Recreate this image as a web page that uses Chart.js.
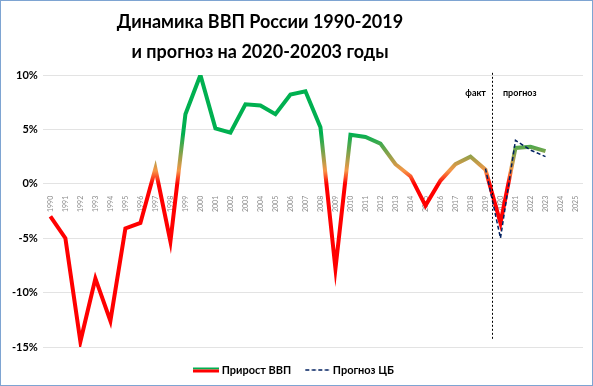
<!DOCTYPE html>
<html>
<head>
<meta charset="utf-8">
<script src="https://cdn.jsdelivr.net/npm/chart.js@4/dist/chart.umd.min.js"></script>
<style>
  html, body { margin: 0; padding: 0; background: #fff; }
  #wrap { width: 593px; height: 386px; box-sizing: border-box; border: 1px solid #7ea4d2; position: relative; }
</style>
</head>
<body>
<div id="wrap"><canvas id="gdpChart"></canvas></div>
<script>
// Data
const years = ['1990','1991','1992','1993','1994','1995','1996','1997','1998','1999',
  '2000','2001','2002','2003','2004','2005','2006','2007','2008','2009',
  '2010','2011','2012','2013','2014','2015','2016','2017','2018','2019',
  '2020','2021','2022','2023','2024','2025'];
const gdpGrowth = [-3.0, -5.0, -14.5, -8.7, -12.6, -4.1, -3.6, 1.4, -5.3, 6.4,
  10.0, 5.1, 4.7, 7.3, 7.2, 6.4, 8.2, 8.5, 5.2, -7.8,
  4.5, 4.3, 3.7, 1.8, 0.7, -2.0, 0.3, 1.8, 2.5, 1.3,
  -3.6, 3.3, 3.4, 3.0, null, null];
const cbForecast = [null, null, null, null, null, null, null, null, null, null,
  null, null, null, null, null, null, null, null, null, null,
  null, null, null, null, null, null, null, null, null, 1.4,
  -5.0, 4.0, 3.1, 2.5, null, null];
const yTicks = [-15, -10, -5, 0, 5, 10];
const titleLines = ['Динамика ВВП России 1990-2019', 'и прогноз на 2020-20203 годы'];
const splitAfter = '2019';

const FONT = 'Lato';

// vertical gradient: red below zero, orange around 1%, green above ~4.5%
function gdpGradient(context) {
    const chart = context.chart;
    const { ctx, chartArea, scales } = chart;
    if (!chartArea) return '#ff0000';
    const y = scales.y;
    const bottom = y.getPixelForValue(y.min);
    const top = y.getPixelForValue(y.max);
    const g = ctx.createLinearGradient(0, bottom, 0, top);
    const pos = v => (v - y.min) / (y.max - y.min);
    g.addColorStop(0, '#ff0000');
    g.addColorStop(pos(0), '#ff0000');
    g.addColorStop(pos(1.2), '#f79646');
    g.addColorStop(pos(4.6), '#00b050');
    g.addColorStop(1, '#00b050');
    return g;
}

// legend samples
function legendSample(kind) {
    const c = document.createElement('canvas');
    c.width = 26; c.height = 6;
    const x = c.getContext('2d');
    if (kind === 'gdp') {
        x.strokeStyle = '#00b050'; x.lineWidth = 2;
        x.beginPath(); x.moveTo(0, 1.5); x.lineTo(26, 1.5); x.stroke();
        x.strokeStyle = '#ff0000'; x.lineWidth = 3;
        x.beginPath(); x.moveTo(0, 4); x.lineTo(26, 4); x.stroke();
    } else {
        x.strokeStyle = '#002060'; x.lineWidth = 1.5; x.setLineDash([4, 2.5]);
        x.beginPath(); x.moveTo(1, 3); x.lineTo(26, 3); x.stroke();
    }
    return c;
}

// title is drawn a bit left of centre, like the original
const chartTitle = {
    id: 'chartTitle',
    afterDraw(chart) {
        const { ctx } = chart;
        ctx.save();
        ctx.font = 'bold 18px ' + FONT;
        ctx.fillStyle = '#000';
        ctx.textAlign = 'center';
        ctx.textBaseline = 'middle';
        ctx.fillText(titleLines[0], 259, 21);
        ctx.fillText(titleLines[1], 259, 51);
        ctx.restore();
    }
};

// marker between fact and forecast
const factLine = {
    id: 'factLine',
    afterDatasetsDraw(chart) {
        const { ctx, scales } = chart;
        const i = years.indexOf(splitAfter);
        const xPos = (scales.x.getPixelForValue(i) + scales.x.getPixelForValue(i + 1)) / 2 - 1;
        ctx.save();
        ctx.strokeStyle = '#000';
        ctx.lineWidth = 1;
        ctx.setLineDash([2, 2]);
        ctx.beginPath();
        ctx.moveTo(Math.round(xPos) + 0.5, scales.y.getPixelForValue(10.2));
        ctx.lineTo(Math.round(xPos) + 0.5, scales.y.getPixelForValue(-14.4));
        ctx.stroke();
        ctx.font = 'bold 9px ' + FONT;
        ctx.fillStyle = '#000';
        ctx.textBaseline = 'middle';
        const ty = scales.y.getPixelForValue(8.3);
        ctx.textAlign = 'right';
        ctx.fillText('факт', xPos - 6, ty);
        ctx.textAlign = 'left';
        ctx.fillText('прогноз', xPos + 11, ty);
        ctx.restore();
    }
};

new Chart(document.getElementById('gdpChart'), {
    type: 'line',
    data: {
        labels: years,
        datasets: [
            {
                label: 'Прирост ВВП',
                data: gdpGrowth,
                borderColor: gdpGradient,
                borderWidth: 4,
                pointRadius: 0,
                tension: 0,
                order: 2
            },
            {
                label: 'Прогноз ЦБ',
                data: cbForecast,
                borderColor: '#002060',
                borderWidth: 1.5,
                borderDash: [4, 2.5],
                pointRadius: 0,
                tension: 0,
                order: 1
            }
        ]
    },
    options: {
        responsive: true,
        maintainAspectRatio: false,
        animation: false,
        layout: { padding: { left: 6, right: 9, top: 74, bottom: -0.5 } },
        plugins: {
            title: { display: false },
            legend: {
                position: 'bottom',
                // empty legend title only adds a little space above the items
                title: { display: true, text: ' ', font: { size: 1 }, padding: { top: 0.3, bottom: 0 } },
                labels: {
                    usePointStyle: true,
                    pointStyleWidth: 20,
                    padding: 16,
                    color: '#000',
                    font: { family: FONT, size: 11, weight: 'bold' },
                    generateLabels(chart) {
                        return chart.data.datasets.map((ds, i) => ({
                            text: ds.label,
                            pointStyle: legendSample(i === 0 ? 'gdp' : 'cb'),
                            fontColor: '#000',
                            datasetIndex: i,
                            lineWidth: 0
                        }));
                    }
                }
            },
            tooltip: { enabled: false }
        },
        scales: {
            x: {
                position: { y: 0 },
                offset: true,
                grid: { display: false },
                border: { display: false },
                ticks: {
                    autoSkip: false,
                    minRotation: 90,
                    maxRotation: 90,
                    padding: 4,
                    color: '#8c8c8c',
                    font: { family: FONT, size: 7 }
                }
            },
            y: {
                min: -15,
                max: 10,
                afterBuildTicks(scale) { scale.ticks = yTicks.map(v => ({ value: v })); },
                grid: { color: '#e3e3e3', drawTicks: false },
                border: { display: false },
                ticks: {
                    padding: 5,
                    color: '#000',
                    font: { family: FONT, size: 11, weight: 'bold' },
                    callback: v => v + '%'
                }
            }
        }
    },
    plugins: [chartTitle, factLine]
});
</script>
</body>
</html>
